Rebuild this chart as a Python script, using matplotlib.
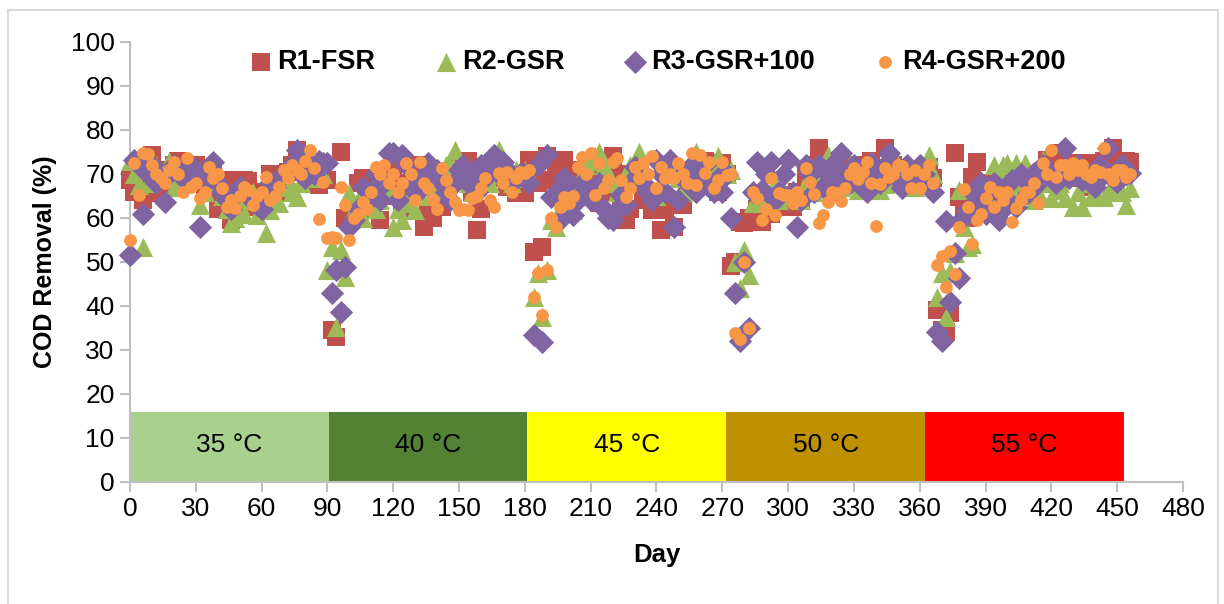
import numpy as np
import matplotlib
matplotlib.use("Agg")
import matplotlib.pyplot as plt
from matplotlib.patches import Rectangle

plt.rcParams['font.family'] = ['Liberation Sans', 'DejaVu Sans']

# sampling days (every 2 days, day 0 to 456)
days = list(range(0, 458, 2))

r1_fsr = [
    68.6, 66, 70, 64, 72, 74.3, 71, 65.7, 69, 70, 72, 73, 70.5, 68, 71,
    72, 69, 66, 68, 70, 62, 64, 68.6, 59.5, 61, 63, 68.6, 68.5, 66, 62.5,
    65, 62.5, 70, 68, 66, 69, 70.5, 72, 75.5, 73, 71, 70, 68.5, 67.5, 69.3,
    68.6, 34.5, 33, 75, 60, 59.5, 62, 68, 69, 66, 61.8, 64, 59.5, 68, 65,
    71, 68, 62, 64, 66, 70, 72, 58, 62, 60, 64.8, 62.5, 66, 68, 70,
    72.5, 70, 73, 66, 57.3, 62, 68, 70.2, 72, 71, 69, 67, 70, 65.7, 68,
    65.7, 73.2, 52.2, 68, 53.4, 74, 68.6, 70, 72, 73.2, 68, 71, 66, 70, 72,
    73, 70, 63.4, 66, 72, 74, 70, 64, 59.5, 62, 68, 70, 66, 64, 61.8,
    61.8, 57.3, 62, 64, 58, 64, 63, 66.4, 68, 70, 71, 73, 70, 69, 66,
    72.5, 70, 49, 50, 59, 58.8, 60, 59, 62, 59, 64, 61, 63, 65.2, 62.5,
    65.2, 62.5, 66, 64, 69.8, 68, 72, 75.9, 69, 70, 66, 71, 70.5, 72, 68,
    70.5, 72, 69, 67, 73, 71, 70, 75.9, 68, 72, 70, 69.3, 71, 68, 70,
    70, 68, 71.6, 69, 39, 34.5, 34, 38.4, 74.8, 64.8, 62, 60, 69.3, 72.7, 65,
    63, 68, 66, 62.5, 64, 70, 66, 64, 68, 67, 65, 69, 70, 68, 73.2,
    73.2, 71, 74.8, 72.5, 70, 72.5, 69, 72.5, 67, 72.5, 71, 70, 73, 72, 76,
    72, 70, 73, 72.7,
]

r2_gsr = [
    73, 70, 67.5, 53.4, 68, 70, 72, 69, 71, 73, 67, 68, 70, 72, 69,
    70, 63, 66, 69, 72, 68, 65, 62, 58.8, 60, 63, 61, 64, 66, 60.7,
    62, 56.6, 61.8, 64, 63.4, 67, 69, 66, 64.8, 68, 70, 73, 69, 71, 70,
    48.2, 53.4, 35.2, 52.7, 46.6, 65.7, 62, 64, 60, 66, 63, 62, 64, 65.7, 67,
    58, 62, 59.5, 63.4, 66, 61.8, 65, 68, 70, 66, 71, 69, 72, 73, 75.5,
    70, 72, 68, 66, 69, 71, 72, 68, 70, 75.5, 72, 70, 68, 71, 69,
    71, 70, 42, 47.5, 37.5, 48.2, 59.5, 58, 62, 61.8, 64, 61.8, 68, 70, 72,
    73, 74, 75, 72, 70, 68, 66, 64, 70, 72, 73, 75, 72, 68, 66,
    65, 68, 70, 72.5, 71, 69, 66, 70, 72, 75, 73, 70, 69, 72, 74,
    72, 70, 71, 50, 44, 52.7, 47, 63.4, 65, 64, 66, 70, 68, 64, 66,
    65, 66, 65.2, 64, 68, 70, 66, 69, 70, 74.3, 72, 68, 67, 70, 72,
    68, 66.4, 70, 72, 68, 67, 66.4, 67.7, 70, 69.5, 72, 68, 70, 71, 67,
    70, 71, 74.3, 70, 42, 47.5, 37.5, 48, 52, 66.4, 58, 53.4, 54, 62, 64,
    66, 64, 72, 70, 72, 72.5, 66, 72.5, 68, 72.5, 70, 64, 66, 73.2, 68,
    64.5, 66.4, 68, 64.5, 70, 62.5, 66, 62.5, 68, 64.8, 66, 70, 64.8, 66, 67,
    67, 66, 63, 66.8,
]

r3_gsr100 = [
    51.6, 73.2, 72, 61, 70, 72, 68, 69, 63.6, 70, 72, 71, 69, 70, 72,
    71, 58, 68, 70, 72.7, 68, 66, 64, 62, 65, 67, 66, 65, 64, 63,
    62, 66, 68, 67, 69, 70, 71, 72, 75.5, 70, 69, 72, 70, 73, 72.5,
    72.5, 43, 48.2, 38.6, 48.9, 58, 59.5, 62, 67, 63.6, 66, 70, 64, 68, 74.8,
    74.8, 64, 74.3, 72, 68, 66, 66.4, 70, 72.5, 69, 71, 68, 66, 64, 68,
    71, 72, 68, 70, 66, 72, 69, 73, 74.3, 70, 72.7, 71, 68, 69.3, 70,
    70, 68, 33.4, 72, 31.8, 74.3, 64.8, 66, 59.5, 69, 68, 60.7, 64, 68, 66.4,
    64, 66, 68, 62, 60, 59.5, 61.8, 65.2, 63, 68, 71.6, 70, 68, 66, 64,
    73.2, 70, 66, 73.2, 58, 64, 70.2, 68, 72, 66, 70, 72, 68, 66, 69,
    66, 70, 60, 43, 32, 50, 35, 66, 72.7, 66.4, 70, 72.7, 64, 66, 70,
    73.2, 66, 58, 64, 72, 70, 66, 72, 67, 70, 72, 68, 74.8, 70, 68,
    72, 68, 70, 66, 72.5, 70, 68, 72, 74.8, 70, 69, 66.8, 72, 68, 70,
    72, 70, 68, 66, 34, 32, 59.3, 41, 52, 46.4, 60.2, 62, 66, 64, 68,
    61, 66, 68, 59.5, 62, 64, 68.6, 62.5, 70, 68.6, 66, 70.2, 68, 72, 70,
    70, 68, 71, 75.9, 69, 70, 72, 68.6, 70, 68, 67, 72, 70, 75.9, 69,
    68.2, 72, 70, 70.2,
]

r4_gsr200 = [
    55, 72.4, 65.2, 74.7, 74.5, 72, 70, 69, 68, 71, 72.7, 70, 66, 73.6, 67,
    68, 64.5, 66, 71.6, 69, 70, 66.8, 62.5, 64, 62.2, 65, 67, 66.4, 63, 65,
    66, 69.3, 64, 65, 67, 71, 69, 72, 71, 70, 73, 75.5, 71.4, 59.8, 68.2,
    55.5, 55.7, 55.5, 67, 63, 55, 60, 61, 63.6, 62, 66, 71.6, 70, 72, 68,
    70, 66, 68, 72.5, 70, 64, 72.7, 68, 66.8, 64, 62, 71.4, 68.6, 66, 63.6,
    61.8, 62, 61.8, 64.5, 65, 66.8, 69, 64, 62.5, 70.2, 68, 70.5, 66, 69, 70.5,
    70.2, 71, 42, 47.5, 38, 48.2, 60, 58, 62.5, 64.8, 63.4, 65, 71.6, 73.9, 70,
    74.8, 65.2, 72.5, 66.8, 68.6, 72.7, 73.6, 68.6, 64.8, 66.8, 71.6, 69, 72.5, 70, 74,
    66.8, 71.6, 69, 70, 69, 72.5, 70, 68, 74.8, 67.5, 74.3, 70.2, 72.7, 66.8, 68.6,
    72.7, 69.8, 70, 33.8, 32.5, 50, 35, 66, 64.5, 59.5, 62, 69, 60.7, 65.7, 65.2,
    65.2, 63.4, 66, 64, 71.4, 68.2, 65.5, 58.9, 60.7, 63.6, 66, 65.7, 63.9, 66.8, 70,
    71.4, 68.9, 70.5, 72.7, 68, 58.2, 67.7, 71.4, 69.3, 70, 72, 71.8, 70, 66.8, 71,
    66.8, 70, 72, 68, 49.3, 51.4, 44.3, 52.5, 47.3, 58, 66.6, 62.5, 54, 59.5, 61,
    64.5, 67, 62.5, 66, 64, 66, 59, 62.2, 64, 66, 66, 68, 63.4, 72.5, 70,
    75.5, 69.3, 72, 72, 70, 72.5, 71, 72, 70, 69.3, 71, 70.5, 75.9, 70, 68.6,
    71, 71, 69.3, 70,
]

# temperature phases
band_start = [0, 90.6, 181.2, 271.8, 362.4]
band_width = 90.6
band_labels = ["35 °C", "40 °C", "45 °C", "50 °C", "55 °C"]
band_colors = ["#A9D18E", "#548235", "#FFFF00", "#BF9000", "#FF0000"]

fig = plt.figure(figsize=(12.24, 6.04), dpi=100)
ax = fig.add_axes([0.1062, 0.2020, 0.8603, 0.7285])

# light outer frame (bottom edge lies outside the picture)
fig.patches.append(Rectangle((0.0065, -0.05), 0.9885, 1.033, transform=fig.transFigure,
                             fill=False, edgecolor="#D9D9D9", lw=1.5))

ax.bar(band_start, 16, width=band_width, align="edge", color=band_colors, zorder=1)
for s, lab in zip(band_start, band_labels):
    ax.text(s + band_width / 2, 8.3, lab, ha="center", va="center", fontsize=19, zorder=2)

ax.scatter(days, r1_fsr, marker="s", s=150, color="#C0504D", linewidths=0,
           label="R1-FSR", zorder=3, clip_on=False)
ax.scatter(days, r2_gsr, marker="^", s=190, color="#9BBB59", linewidths=0,
           label="R2-GSR", zorder=4, clip_on=False)
ax.scatter(days, r3_gsr100, marker="D", s=140, color="#8064A2", linewidths=0,
           label="R3-GSR+100", zorder=5, clip_on=False)
ax.scatter(days, r4_gsr200, marker="o", s=85, color="#F79646", linewidths=0,
           label="R4-GSR+200", zorder=6, clip_on=False)

ax.set_xlim(0, 480)
ax.set_ylim(0, 100)
ax.set_xticks(range(0, 481, 30))
ax.set_yticks(range(0, 101, 10))
for sp in ["top", "right"]:
    ax.spines[sp].set_visible(False)
for sp in ["left", "bottom"]:
    ax.spines[sp].set_color("#BFBFBF")
    ax.spines[sp].set_linewidth(1.5)
ax.tick_params(axis="both", direction="out", length=7, width=1.5, color="#BFBFBF",
               labelsize=19, pad=4)

ax.set_xlabel("Day", fontsize=18.5, fontweight="bold", labelpad=16)
ax.set_ylabel("COD Removal (%)", fontsize=18, fontweight="bold", labelpad=10)

leg = ax.legend(loc="upper center", bbox_to_anchor=(0.5, 1.04), ncol=4, frameon=False,
                handletextpad=0.1, columnspacing=2.1, handlelength=1.0,
                prop={"size": 19.5, "weight": "bold"}, scatterpoints=1)

fig.savefig("out.png", dpi=100)
